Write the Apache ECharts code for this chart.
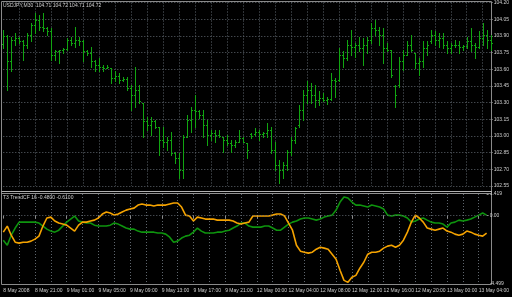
<!DOCTYPE html>
<html><head><meta charset="utf-8">
<script src="https://cdn.jsdelivr.net/npm/echarts@6/dist/echarts.min.js"></script>
<style>html,body{margin:0;padding:0;background:#000;}#c{width:512px;height:297px;}</style>
</head><body><div id="c"></div>
<script>
const categories = [
'8 May 17:00','8 May 17:30','8 May 18:00','8 May 18:30','8 May 19:00','8 May 19:30','8 May 20:00','8 May 20:30','8 May 21:00','8 May 21:30','8 May 22:00','8 May 22:30','8 May 23:00','8 May 23:30',
'9 May 00:00','9 May 00:30','9 May 01:00','9 May 01:30','9 May 02:00','9 May 02:30','9 May 03:00','9 May 03:30','9 May 04:00','9 May 04:30','9 May 05:00','9 May 05:30','9 May 06:00','9 May 06:30','9 May 07:00','9 May 07:30','9 May 08:00','9 May 08:30','9 May 09:00','9 May 09:30','9 May 10:00','9 May 10:30','9 May 11:00','9 May 11:30','9 May 12:00','9 May 12:30','9 May 13:00','9 May 13:30','9 May 14:00','9 May 14:30','9 May 15:00','9 May 15:30','9 May 16:00','9 May 16:30','9 May 17:00','9 May 17:30','9 May 18:00','9 May 18:30','9 May 19:00','9 May 19:30','9 May 20:00','9 May 20:30','9 May 21:00','9 May 21:30','9 May 22:00','9 May 22:30','9 May 23:00','9 May 23:30',
'11 May 23:00','11 May 23:30',
'12 May 00:00','12 May 00:30','12 May 01:00','12 May 01:30','12 May 02:00','12 May 02:30','12 May 03:00','12 May 03:30','12 May 04:00','12 May 04:30','12 May 05:00','12 May 05:30','12 May 06:00','12 May 06:30','12 May 07:00','12 May 07:30','12 May 08:00','12 May 08:30','12 May 09:00','12 May 09:30','12 May 10:00','12 May 10:30','12 May 11:00','12 May 11:30','12 May 12:00','12 May 12:30','12 May 13:00','12 May 13:30','12 May 14:00','12 May 14:30','12 May 15:00','12 May 15:30','12 May 16:00','12 May 16:30','12 May 17:00','12 May 17:30','12 May 18:00','12 May 18:30','12 May 19:00','12 May 19:30','12 May 20:00','12 May 20:30','12 May 21:00','12 May 21:30','12 May 22:00','12 May 22:30','12 May 23:00','12 May 23:30',
'13 May 00:00','13 May 00:30','13 May 01:00','13 May 01:30','13 May 02:00','13 May 02:30','13 May 03:00','13 May 03:30','13 May 04:00','13 May 04:30','13 May 05:00'
];
const firstTimeLabel = '8 May 2008';

const opens = [
103.83,103.90,103.67,103.86,103.88,103.85,103.82,103.91,104.00,104.04,
103.98,103.97,103.94,103.73,103.76,103.77,103.78,103.86,103.84,103.86,
103.85,103.76,103.75,103.67,103.64,103.62,103.61,103.61,103.52,103.54,
103.50,103.51,103.43,103.37,103.41,103.30,103.13,103.10,103.13,103.08,
102.96,102.95,102.96,102.85,102.80,102.69,102.99,103.14,103.23,103.22,
103.19,103.10,103.01,103.03,103.01,102.99,102.96,102.94,102.92,102.95,
102.98,102.94,103.02,103.02,103.04,103.02,103.03,103.05,102.87,102.74,
102.69,102.74,102.86,102.96,103.10,103.23,103.37,103.41,103.37,103.32,
103.34,103.32,103.33,103.50,103.50,103.73,103.70,103.82,103.80,103.82,
103.79,103.82,103.86,103.97,103.95,103.91,103.79,103.77,103.45,103.46,
103.67,103.73,103.82,103.75,103.66,103.67,103.79,103.85,103.91,103.86,
103.88,103.82,103.79,103.82,103.82,103.80,103.81,103.85,103.82,103.80,
103.88,103.91,103.86];
const highs = [
103.95,103.91,103.89,103.93,103.89,103.86,103.93,104.02,104.11,104.09,
104.11,103.98,103.97,103.77,103.77,103.79,103.88,103.89,103.98,103.89,
103.86,103.77,103.80,103.68,103.70,103.64,103.64,103.61,103.58,103.57,
103.53,103.53,103.46,103.62,103.46,103.30,103.17,103.17,103.14,103.08,
103.08,102.99,103.04,102.86,102.85,103.01,103.19,103.26,103.37,103.23,
103.23,103.14,103.05,103.05,103.05,102.99,103.01,102.96,102.96,103.05,
102.99,102.94,103.03,103.07,103.05,103.04,103.12,103.08,102.95,102.78,
102.77,102.87,102.99,103.08,103.28,103.41,103.49,103.48,103.46,103.40,
103.39,103.35,103.57,103.52,103.79,103.76,103.86,103.95,103.84,103.89,
103.88,103.89,104.02,104.04,103.98,103.97,103.84,103.77,103.46,103.71,
103.77,103.85,103.91,103.75,103.70,103.85,103.85,103.95,103.94,103.93,
103.93,103.85,103.84,103.86,103.85,103.82,103.89,103.97,103.84,103.94,
104.02,103.95,103.91];
const lows = [
103.79,103.41,103.58,103.82,103.84,103.68,103.79,103.85,103.93,103.95,
103.94,103.91,103.68,103.68,103.66,103.75,103.77,103.82,103.80,103.82,
103.67,103.73,103.62,103.58,103.58,103.58,103.61,103.48,103.49,103.48,
103.49,103.41,103.23,103.26,103.30,102.99,103.05,103.01,103.07,102.83,
102.90,102.87,102.83,102.76,102.62,102.62,102.99,103.04,103.08,103.16,
102.99,102.92,102.96,102.95,102.99,102.86,102.92,102.86,102.90,102.95,
102.95,102.80,102.98,103.01,102.96,102.99,102.99,102.85,102.69,102.58,
102.62,102.69,102.83,102.94,103.08,103.14,103.30,103.30,103.26,103.28,
103.31,103.29,103.32,103.35,103.49,103.62,103.68,103.73,103.71,103.76,
103.64,103.75,103.84,103.91,103.82,103.66,103.76,103.53,103.26,103.44,
103.59,103.73,103.76,103.61,103.55,103.62,103.73,103.84,103.82,103.80,
103.79,103.75,103.75,103.80,103.75,103.77,103.79,103.76,103.70,103.79,
103.82,103.79,103.77];
const closes = [
103.90,103.67,103.86,103.88,103.85,103.82,103.91,104.00,104.04,103.98,
103.97,103.94,103.73,103.76,103.77,103.78,103.86,103.84,103.86,103.85,
103.76,103.75,103.67,103.64,103.62,103.61,103.62,103.52,103.54,103.50,
103.51,103.43,103.37,103.41,103.31,103.13,103.10,103.13,103.08,102.96,
102.95,102.96,102.85,102.80,102.69,102.99,103.14,103.23,103.22,103.19,
103.10,103.01,103.03,103.01,103.00,102.96,102.94,102.92,102.95,102.98,
102.95,102.87,103.00,103.04,103.02,103.03,103.05,102.87,102.74,102.69,
102.74,102.86,102.96,103.07,103.23,103.37,103.41,103.37,103.32,103.34,
103.32,103.33,103.50,103.49,103.73,103.70,103.82,103.80,103.82,103.79,
103.82,103.86,103.97,103.95,103.91,103.79,103.77,103.55,103.37,103.67,
103.73,103.82,103.77,103.66,103.67,103.79,103.82,103.91,103.86,103.88,
103.82,103.79,103.82,103.82,103.80,103.81,103.85,103.82,103.80,103.88,
103.91,103.86,103.84];

const t3Orange = [
-1.09,-0.69,-1.29,-1.75,-1.81,-1.75,-1.75,-1.68,-1.55,-1.35,
-0.69,-0.16,-0.10,-0.36,-0.49,-0.56,-0.63,-0.82,-1.02,-0.63,
-0.43,-0.43,-0.36,-0.30,-0.16,0.10,0.23,0.17,0.03,0.10,
0.23,0.36,0.43,0.49,0.69,0.76,0.69,0.69,0.63,0.69,
0.69,0.69,0.76,0.83,0.83,0.56,0.03,-0.03,-0.36,-0.10,
-0.16,-0.23,-0.23,-0.23,-0.30,-0.30,-0.30,-0.30,-0.36,-0.49,
-0.56,-0.49,-0.43,-0.03,-0.03,-0.03,-0.03,-0.03,0.03,0.10,
0.10,-0.03,-0.49,-0.96,-1.95,-2.34,-2.41,-2.47,-2.41,-2.21,
-2.08,-2.14,-2.21,-2.54,-2.87,-3.60,-4.26,-4.39,-4.06,-3.93,
-3.46,-3.07,-2.54,-2.41,-2.41,-2.34,-2.14,-2.01,-1.95,-2.08,
-1.95,-1.62,-1.09,-0.43,0.03,-0.16,-0.43,-0.82,-0.89,-0.96,
-0.89,-0.82,-1.02,-1.09,-1.22,-1.29,-1.22,-1.02,-1.09,-1.22,
-1.29,-1.35,-1.15];
const t3Green = [
-1.62,-1.95,-1.29,-0.82,-0.43,-0.43,-0.43,-0.43,-0.43,-0.49,
-0.69,-0.89,-1.02,-1.09,-0.96,-0.69,-0.43,-0.23,-0.03,-0.36,
-0.43,-0.49,-0.49,-0.63,-0.69,-0.69,-0.69,-0.63,-0.49,-0.56,
-0.69,-0.82,-0.89,-0.89,-1.02,-1.09,-1.09,-1.09,-1.09,-1.15,
-1.15,-1.22,-1.42,-1.75,-1.68,-1.48,-1.35,-1.29,-1.09,-0.82,
-1.02,-1.15,-1.15,-1.15,-1.09,-1.09,-1.02,-0.96,-0.82,-0.69,
-0.49,-0.49,-0.69,-0.76,-0.76,-0.76,-0.69,-0.69,-0.82,-0.96,
-0.96,-0.76,-0.56,-0.43,-0.36,-0.23,-0.16,-0.16,-0.23,-0.30,
-0.23,-0.10,-0.03,0.03,0.36,0.89,1.22,1.16,0.89,0.69,
0.69,0.63,0.56,0.69,0.63,0.56,0.43,0.03,-0.03,0.03,
0.03,-0.03,-0.16,-0.43,-0.36,-0.23,-0.16,-0.30,-0.43,-0.49,
-0.49,-0.56,-0.76,-0.49,-0.43,-0.30,-0.36,-0.30,-0.23,-0.10,
0.03,0.17,0.03];

const priceMin = 102.55, priceMax = 104.20, priceStep = 0.15;
const indLabels = [-4.499, 0, 1.419];
const mainTitle = 'USDJPY,M30  104.71 104.72 104.71 104.72';
const indTitle = 'T3 TrendCF 16 -0.4800 -0.6100';

const barColor = '#11a511';
const gridColor = '#5f666e';
const textColor = '#cfcfcf';
const frameColor = '#8a8a8a';
const FONT = 'Liberation Sans';
const FS = 5;

const bars = categories.map((c, i) => [i, opens[i], highs[i], lows[i], closes[i]]);

function renderBar(params, api) {
  const i = api.value(0);
  const pH = api.coord([i, api.value(2)]);
  const pL = api.coord([i, api.value(3)]);
  const pO = api.coord([i, api.value(1)]);
  const pC = api.coord([i, api.value(4)]);
  const x = Math.round(pH[0]) + 0.5;
  const st = {stroke: barColor, lineWidth: 1};
  const yo = Math.round(pO[1]) + 0.5, yc = Math.round(pC[1]) + 0.5;
  return {type: 'group', children: [
    {type: 'line', shape: {x1: x, y1: Math.round(pH[1]), x2: x, y2: Math.round(pL[1]) + 1}, style: st},
    {type: 'line', shape: {x1: x - 1.5, y1: yo, x2: x - 0.5, y2: yo}, style: st},
    {type: 'line', shape: {x1: x + 0.5, y1: yc, x2: x + 1.5, y2: yc}, style: st}
  ]};
}

const dotted = {color: gridColor, type: [1, 2], width: 1};
const L = 3.3, R = 20.3;

const option = {
  backgroundColor: '#000',
  animation: false,
  textStyle: {fontFamily: FONT},
  title: [
    {text: mainTitle, left: 3, top: 3, padding: 0, textStyle: {fontSize: FS, color: textColor, fontWeight: 'normal', fontFamily: FONT}},
    {text: indTitle, left: 3, top: 195, padding: 0, textStyle: {fontSize: FS, color: textColor, fontWeight: 'normal', fontFamily: FONT}}
  ],
  grid: [
    {left: L, right: R, top: 2.5, height: 183.5},
    {left: L, right: R, top: 194, height: 90}
  ],
  xAxis: [
    {type: 'category', gridIndex: 0, data: categories, boundaryGap: false,
     axisLine: {show: false}, axisTick: {show: false}, axisLabel: {show: false},
     splitLine: {show: true, interval: (i) => i > 0 && i % 4 === 0, lineStyle: dotted}},
    {type: 'category', gridIndex: 1, data: categories, boundaryGap: false,
     axisLine: {show: false},
     axisTick: {show: true, interval: (i) => i % 8 === 0, length: 3, lineStyle: {color: frameColor}},
     axisLabel: {interval: (i) => i % 8 === 0, align: 'left', margin: 4, fontSize: FS, color: textColor, fontFamily: FONT,
       formatter: (v, i) => i === 0 ? firstTimeLabel : v},
     splitLine: {show: true, interval: (i) => i > 0 && i % 4 === 0, lineStyle: dotted}}
  ],
  yAxis: [
    {type: 'value', gridIndex: 0, position: 'right', min: priceMin, max: priceMax, interval: priceStep,
     axisLine: {show: false}, axisTick: {show: true, length: 2, lineStyle: {color: frameColor}},
     axisLabel: {margin: 3, fontSize: FS, color: textColor, fontFamily: FONT, showMinLabel: true, showMaxLabel: true,
       formatter: (v) => v.toFixed(2)},
     splitLine: {show: true, lineStyle: dotted}},
    {type: 'value', gridIndex: 1, position: 'right', min: indLabels[0], max: indLabels[2],
     axisLine: {show: false},
     axisTick: {show: true, length: 2, customValues: indLabels, lineStyle: {color: frameColor}},
     axisLabel: {customValues: indLabels, margin: 3, fontSize: FS, color: textColor, fontFamily: FONT,
       formatter: (v) => v === 0 ? '0.00' : v.toFixed(3)},
     splitLine: {show: false}}
  ],
  series: [
    {type: 'custom', name: 'USDJPY', xAxisIndex: 0, yAxisIndex: 0, data: bars,
     encode: {x: 0, y: [1, 2, 3, 4]}, renderItem: renderBar, silent: true},
    {type: 'line', name: 'T3 green', xAxisIndex: 1, yAxisIndex: 1, data: t3Green, showSymbol: false,
     lineStyle: {color: '#0e940e', width: 1.6}, itemStyle: {color: '#0e940e'}, silent: true,
     markLine: {silent: true, symbol: 'none', label: {show: false}, lineStyle: dotted, data: [{yAxis: 0}]}},
    {type: 'line', name: 'T3 orange', xAxisIndex: 1, yAxisIndex: 1, data: t3Orange, showSymbol: false,
     lineStyle: {color: '#f5a300', width: 1.6}, itemStyle: {color: '#f5a300'}, silent: true}
  ],
  graphic: [
    {type: 'line', shape: {x1: 1.5, y1: 1.5, x2: 491.5, y2: 1.5}, style: {stroke: frameColor, lineWidth: 1}, silent: true},
    {type: 'line', shape: {x1: 1.5, y1: 1.5, x2: 1.5, y2: 284.5}, style: {stroke: frameColor, lineWidth: 1}, silent: true},
    {type: 'line', shape: {x1: 491.5, y1: 1.5, x2: 491.5, y2: 284.5}, style: {stroke: frameColor, lineWidth: 1}, silent: true},
    {type: 'line', shape: {x1: 1.5, y1: 191.5, x2: 491.5, y2: 191.5}, style: {stroke: '#b0b0b0', lineWidth: 1}, silent: true},
    {type: 'line', shape: {x1: 1.5, y1: 193.5, x2: 491.5, y2: 193.5}, style: {stroke: '#909090', lineWidth: 1}, silent: true},
    {type: 'line', shape: {x1: 1.5, y1: 284.5, x2: 491.5, y2: 284.5}, style: {stroke: frameColor, lineWidth: 1}, silent: true}
  ]
};

const chart = echarts.init(document.getElementById('c'), null, {renderer: 'canvas'});
chart.setOption(option);
</script>
</body></html>
